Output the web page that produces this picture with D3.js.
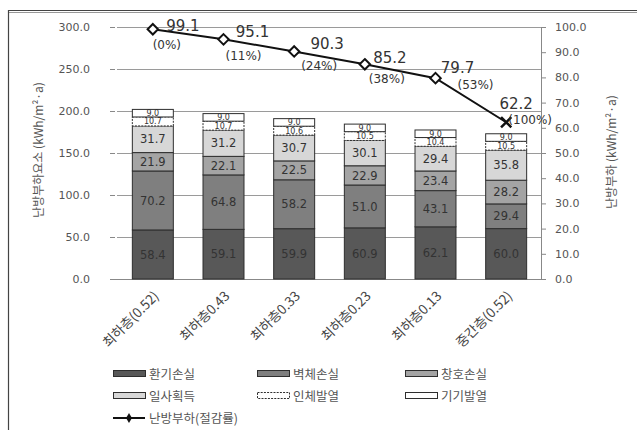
<!DOCTYPE html>
<html><head><meta charset="utf-8">
<script src="https://cdn.jsdelivr.net/npm/d3@7"></script>
<style>body{margin:0;background:#fff}svg{display:block}</style>
</head><body><svg id="chart" width="637" height="430"></svg>
<script>
// Heating load components by insulation case (kWh/m²·a)
const categories = ["최하층(0.52)", "최하층0.43", "최하층0.33", "최하층0.23", "최하층0.13", "중간층(0.52)"];
const ventilation = [58.4, 59.1, 59.9, 60.9, 62.1, 60.0];
const wall = [70.2, 64.8, 58.2, 51.0, 43.1, 29.4];
const windowLoss = [21.9, 22.1, 22.5, 22.9, 23.4, 28.2];
const solar = [31.7, 31.2, 30.7, 30.1, 29.4, 35.8];
const occupant = [10.7, 10.7, 10.6, 10.5, 10.4, 10.5];
const equipment = [9.0, 9.0, 9.0, 9.0, 9.0, 9.0];
const heatingLoad = [99.1, 95.1, 90.3, 85.2, 79.7, 62.2];
const savingRate = ["(0%)", "(11%)", "(24%)", "(38%)", "(53%)", "(100%)"];
const seriesNames = ["환기손실", "벽체손실", "창호손실", "일사획득", "인체발열", "기기발열"];
const leftTicks = [0, 50, 100, 150, 200, 250, 300];
const rightTicks = [0, 10, 20, 30, 40, 50, 60, 70, 80, 90, 100];

const seriesValues = [ventilation, wall, windowLoss, solar, occupant, equipment];
const fills = ["#585858", "#7f7f7f", "#a4a4a4", "#d7d7d7", "#ffffff", "#ffffff"];
const numFont = "'DejaVu Sans', 'Noto Sans CJK KR', sans-serif";
const korFont = "'Noto Sans CJK KR', 'DejaVu Sans', sans-serif";

const svg = d3.select("#chart");

// frame (top and left edges)
svg.append("line").attr("x1", 8).attr("x2", 637).attr("y1", 10.5).attr("y2", 10.5).attr("stroke", "#444").attr("stroke-width", 1.2);
svg.append("line").attr("x1", 8).attr("x2", 637).attr("y1", 12.5).attr("y2", 12.5).attr("stroke", "#999");
svg.append("line").attr("x1", 8.5).attr("x2", 8.5).attr("y1", 10).attr("y2", 430).attr("stroke", "#444").attr("stroke-width", 1.2);

const x = d3.scaleBand().domain(categories).range([117, 541]).paddingInner(0.42).paddingOuter(0.21);
const yL = d3.scaleLinear().domain([0, 300]).range([279, 27]);
const yR = d3.scaleLinear().domain([0, 100]).range([279, 27]);

// gridlines
svg.append("g").selectAll("line").data(leftTicks.filter(d => d > 0)).join("line")
  .attr("x1", 117).attr("x2", 541)
  .attr("y1", d => Math.round(yL(d)) + 0.5).attr("y2", d => Math.round(yL(d)) + 0.5)
  .attr("stroke", "#9a9a9a");

// left axis
const leftAxis = svg.append("g").attr("transform", "translate(117,0)")
  .call(d3.axisLeft(yL).tickValues(leftTicks).tickFormat(d3.format(".1f")).tickSize(5).tickPadding(22));
leftAxis.select(".domain").remove();
leftAxis.selectAll(".tick line").attr("stroke", "#888").attr("transform", "translate(-2,0)");
leftAxis.selectAll("text").attr("font-family", numFont).attr("font-size", 11).attr("fill", "#555");

// right axis
const rightAxis = svg.append("g").attr("transform", "translate(541,0)")
  .call(d3.axisRight(yR).tickValues(rightTicks).tickFormat(d3.format(".1f")).tickSize(5).tickPadding(9));
rightAxis.select(".domain").attr("stroke", "#888").attr("d", "M0.5,27V279");
rightAxis.selectAll(".tick line").attr("stroke", "#888");
rightAxis.selectAll("text").attr("font-family", numFont).attr("font-size", 11).attr("fill", "#555");

// baseline
svg.append("line").attr("x1", 112).attr("x2", 546).attr("y1", 279.5).attr("y2", 279.5).attr("stroke", "#888");

// stacked bars
const rows = categories.map((c, i) => {
  const r = { cat: c };
  seriesNames.forEach((s, k) => { r[s] = seriesValues[k][i]; });
  return r;
});
const stacked = d3.stack().keys(seriesNames)(rows);

const barG = svg.append("g");
stacked.forEach((layer, k) => {
  const g = barG.append("g");
  g.selectAll("rect").data(layer).join("rect")
    .attr("x", d => x(d.data.cat) + 0.5)
    .attr("y", d => yL(d[1]))
    .attr("width", x.bandwidth())
    .attr("height", d => yL(d[0]) - yL(d[1]))
    .attr("fill", fills[k])
    .attr("stroke", "#2e2e2e")
    .attr("stroke-width", 1)
    .attr("stroke-dasharray", k === 4 ? "2,1.2" : null);
  const small = k >= 4;
  g.selectAll("text").data(layer).join("text")
    .attr("x", d => x(d.data.cat) + x.bandwidth() / 2 + 0.5)
    .attr("y", d => (yL(d[0]) + yL(d[1])) / 2)
    .attr("dy", "0.36em")
    .attr("text-anchor", "middle")
    .attr("font-family", numFont)
    .attr("font-size", small ? 8 : 11.5)
    .attr("fill", "#333")
    .text(d => (d[1] - d[0]).toFixed(1));
});

// heating load line
const cx = d => x(d) + x.bandwidth() / 2 + 0.5;
const pts = categories.map((c, i) => [cx(c), yR(heatingLoad[i])]);
svg.append("path").attr("d", d3.line()(pts)).attr("fill", "none").attr("stroke", "#111").attr("stroke-width", 2);

const diamond = d3.symbol().type(d3.symbolDiamond2).size(70);
svg.append("g").selectAll("path").data(pts.slice(0, 5)).join("path")
  .attr("transform", d => `translate(${d[0]},${d[1]})`)
  .attr("d", diamond)
  .attr("fill", "#fff").attr("stroke", "#111").attr("stroke-width", 2);
const last = pts[5];
svg.append("path")
  .attr("transform", `translate(${last[0]},${last[1]})`)
  .attr("d", d3.symbol().type(d3.symbolX).size(70)())
  .attr("fill", "none").attr("stroke", "#111").attr("stroke-width", 2.5);

// point labels: value above-right, saving rate below
const valueNudge = [[30, -4], [29, -8], [33, -8], [25, -7], [22, -11], [10, -19]];
const rateNudge = [[14, 15], [20, 16], [25, 14], [22, 14], [40, 7], [24, -3]];
svg.append("g").selectAll("text").data(pts).join("text")
  .attr("x", (d, i) => d[0] + valueNudge[i][0])
  .attr("y", (d, i) => d[1] + valueNudge[i][1])
  .attr("dy", "0.36em").attr("text-anchor", "middle")
  .attr("font-family", numFont).attr("font-size", 15).attr("fill", "#333")
  .text((d, i) => heatingLoad[i].toFixed(1));
svg.append("g").selectAll("text").data(pts).join("text")
  .attr("x", (d, i) => d[0] + rateNudge[i][0])
  .attr("y", (d, i) => d[1] + rateNudge[i][1])
  .attr("dy", "0.36em").attr("text-anchor", "middle")
  .attr("font-family", numFont).attr("font-size", 12).attr("fill", "#333")
  .text((d, i) => savingRate[i]);

// category labels
svg.append("g").selectAll("text").data(categories).join("text")
  .attr("transform", d => `translate(${cx(d) + 7},${297}) rotate(-45)`)
  .attr("text-anchor", "end")
  .attr("font-family", korFont).attr("font-size", 13.5).attr("fill", "#444")
  .text(d => d);

// axis titles
svg.append("text").attr("transform", "translate(43,150) rotate(-90)")
  .attr("text-anchor", "middle").attr("font-family", korFont).attr("font-size", 12).attr("fill", "#555")
  .text("난방부하요소 (kWh/m²·a)");
svg.append("text").attr("transform", "translate(616,152) rotate(-90)")
  .attr("text-anchor", "middle").attr("font-family", korFont).attr("font-size", 12).attr("fill", "#555")
  .text("난방부하 (kWh/m²·a)");

// legend
const legX = [113, 257, 405];
const legY = [374, 396];
const leg = svg.append("g");
seriesNames.forEach((s, k) => {
  const lx = legX[k % 3], ly = legY[Math.floor(k / 3)];
  leg.append("rect").attr("x", lx + 0.5).attr("y", ly - 3.5).attr("width", 32).attr("height", 6)
    .attr("fill", fills[k]).attr("stroke", "#2e2e2e")
    .attr("stroke-dasharray", k === 4 ? "2,1.2" : null);
  leg.append("text").attr("x", lx + 36).attr("y", ly).attr("dy", "0.36em")
    .attr("font-family", korFont).attr("font-size", 12.5).attr("fill", "#555").text(s);
});
leg.append("line").attr("x1", 113).attr("x2", 145).attr("y1", 418).attr("y2", 418).attr("stroke", "#111").attr("stroke-width", 2);
leg.append("path").attr("transform", "translate(129,418)").attr("d", d3.symbol().type(d3.symbolDiamond).size(30)()).attr("fill", "#111");
leg.append("text").attr("x", 149).attr("y", 418).attr("dy", "0.36em")
  .attr("font-family", korFont).attr("font-size", 12.5).attr("fill", "#555").text("난방부하(절감률)");
</script></body></html>
